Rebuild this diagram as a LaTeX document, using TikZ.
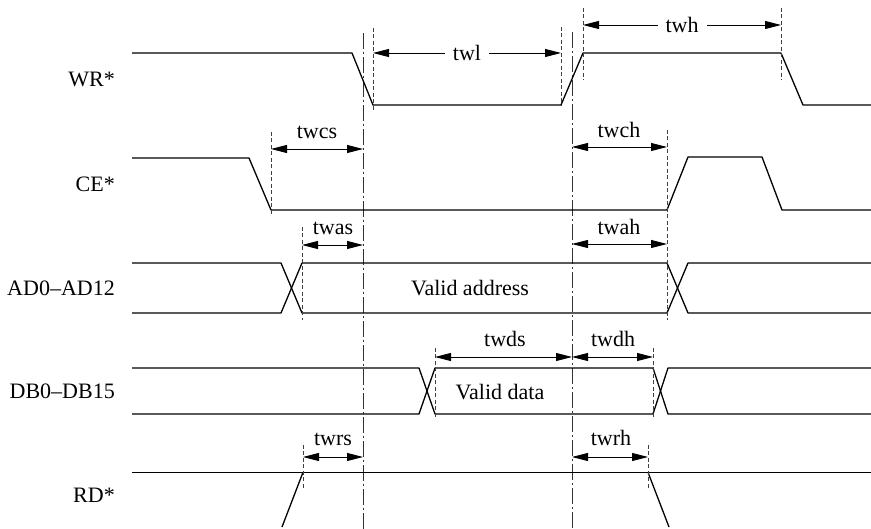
\documentclass[tikz,border=0pt]{standalone}
\usepackage{fontspec}
\setmainfont{Liberation Serif}
\usetikzlibrary{arrows.meta}
\begin{document}
\begin{tikzpicture}[x=1pt,y=-1pt,
  sig/.style={line width=1.3pt,line join=round},
  guide/.style={line width=0.6pt,dash pattern=on 4pt off 2.5pt,black!75},
  axisline/.style={line width=0.7pt,dash pattern=on 16pt off 3pt on 2pt off 3pt,black!80},
  dimtip/.tip={Triangle[length=16pt,width=8pt]},
  dim/.style={line width=0.9pt,dimtip-dimtip},
  dimtxt/.style={font=\fontsize{22}{25}\selectfont,inner sep=1pt},
  inltxt/.style={font=\fontsize{22}{25}\selectfont,fill=white,inner sep=8pt},
  lbl/.style={font=\fontsize{22}{25}\selectfont,anchor=east,inner sep=0pt},
  every node/.style={font=\fontsize{22}{25}\selectfont}]
\useasboundingbox (0,0) rectangle (871,529);

% signal labels
\node[lbl] (lwr) at (115,79) {WR*};
\node[lbl] (lce) at (115,184) {CE*};
\node[lbl] (lad) at (115,288) {AD0–AD12};
\node[lbl] (ldb) at (115,391) {DB0–DB15};
\node[lbl] (lrd) at (115,495) {RD*};

% reference dash-dot lines
\coordinate (a1) at (363,33); \coordinate (a2) at (363,529);
\coordinate (b1) at (572,32); \coordinate (b2) at (572,529);
\draw[axisline] (a1) -- (a2);
\draw[axisline] (b1) -- (b2);

% WR*
\draw[sig] (132,53) -- (352,53) -- (373,105) -- (561,105) -- (583,53) -- (781,53) -- (803,105) -- (871,105);
% CE*
\draw[sig] (132,158) -- (249,158) -- (271,210) -- (667,210) -- (688,157) -- (762,157) -- (782,210) -- (871,210);
% AD0-AD12
\draw[sig] (132,263) -- (281,263) -- (302,313) -- (667,313) -- (688,263) -- (871,263);
\draw[sig] (132,313) -- (281,313) -- (302,263) -- (667,263) -- (688,313) -- (871,313);
\node (vaddr) at (470,288) {Valid address};
% DB0-DB15
\draw[sig] (132,368) -- (419,368) -- (435,414) -- (653,414) -- (668,368) -- (871,368);
\draw[sig] (132,414) -- (419,414) -- (435,368) -- (653,368) -- (668,414) -- (871,414);
\node (vdata) at (500,392) {Valid data};
% RD*
\draw[sig] (132,472.3) -- (871,472.3);
\draw[sig] (282,527) -- (303,472.3);
\draw[sig] (648,472.3) -- (669,527);

% short dashed guides
\draw[guide] (373,28) -- (373,111);
\draw[guide] (561,27) -- (561,106);
\draw[guide] (583,8) -- (583,80);
\draw[guide] (781,8) -- (781,80);
\draw[guide] (271,132) -- (271,214);
\draw[guide] (302,227) -- (302,320);
\draw[guide] (667,130) -- (667,320);
\draw[guide] (435,348) -- (435,418);
\draw[guide] (653,348) -- (653,418);
\draw[guide] (303,445) -- (303,490);
\draw[guide] (648,445) -- (648,490);

% dimension arrows
\coordinate (twl1) at (373,53); \coordinate (twl2) at (561,53);
\draw[dim] (twl1) -- node[inltxt] (ttwl) {twl} (twl2);
\coordinate (twh1) at (583,25); \coordinate (twh2) at (781,25);
\draw[dim] (twh1) -- node[inltxt] (ttwh) {twh} (twh2);

\coordinate (twcs1) at (271,149); \coordinate (twcs2) at (363,149);
\draw[dim] (twcs1) -- (twcs2);
\node[dimtxt] (ttwcs) at (317,132) {twcs};
\coordinate (twas1) at (302,245); \coordinate (twas2) at (363,245);
\draw[dim] (twas1) -- (twas2);
\node[dimtxt] (ttwas) at (333,228) {twas};
\coordinate (twch1) at (572,147); \coordinate (twch2) at (667,147);
\draw[dim] (twch1) -- (twch2);
\node[dimtxt] (ttwch) at (619,130) {twch};
\coordinate (twah1) at (572,244); \coordinate (twah2) at (667,244);
\draw[dim] (twah1) -- (twah2);
\node[dimtxt] (ttwah) at (619,227) {twah};
\coordinate (twds1) at (435,357); \coordinate (twds2) at (572,357);
\draw[dim] (twds1) -- (twds2);
\node[dimtxt] (ttwds) at (505,339) {twds};
\coordinate (twdh1) at (572,357); \coordinate (twdh2) at (653,357);
\draw[dim] (twdh1) -- (twdh2);
\node[dimtxt] (ttwdh) at (613,339) {twdh};
\coordinate (twrs1) at (303,457); \coordinate (twrs2) at (363,457);
\draw[dim] (twrs1) -- (twrs2);
\node[dimtxt] (ttwrs) at (333,439) {twrs};
\coordinate (twrh1) at (572,457); \coordinate (twrh2) at (648,457);
\draw[dim] (twrh1) -- (twrh2);
\node[dimtxt] (ttwrh) at (611,438) {twrh};
\end{tikzpicture}
\end{document}
